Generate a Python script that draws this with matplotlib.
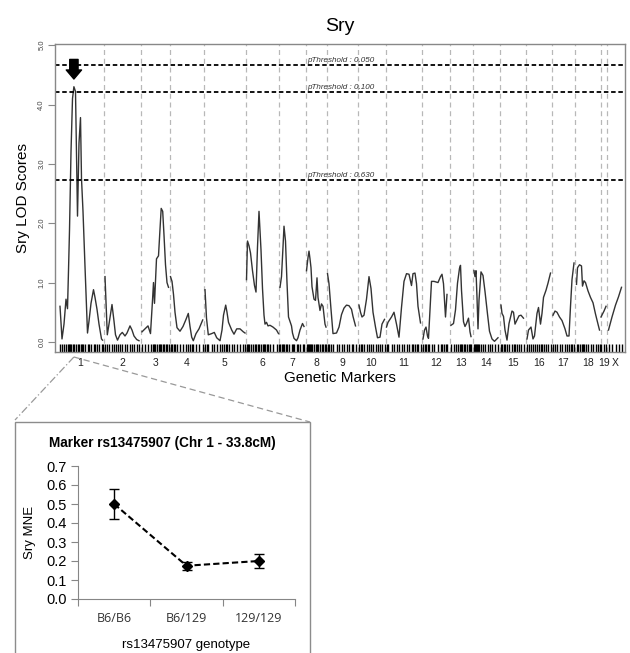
import numpy as np
import matplotlib
matplotlib.use('Agg')
import matplotlib.pyplot as plt
from matplotlib.lines import Line2D
from matplotlib.patches import Rectangle

plt.rcParams['font.family'] = ['Liberation Sans', 'DejaVu Sans']

# ---- genome scan data (positions in cM within each chromosome) ----
chromosomes = ['1', '2', '3', '4', '5', '6', '7', '8', '9', '10',
               '11', '12', '13', '14', '15', '16', '17', '18', '19', 'X']
chrom_len = [94, 74, 58, 68, 83, 67, 53, 42, 62, 56,
             73, 56, 45, 54, 53, 51, 47, 51, 13, 33]

marker_pos = [
    [6, 10, 14, 18, 21, 23, 25, 28, 31, 33.8, 37, 41, 44, 47, 49, 52, 56, 61, 64, 68, 73, 76, 80, 84, 89, 91],
    [2, 6.6, 10, 16, 20, 23, 27, 32, 36.6, 42, 46, 52, 56, 60, 65.4, 70],
    [2, 8, 14, 19, 23, 25, 27, 31, 35, 38, 40.4, 43.4, 46, 49, 52, 55],
    [1, 4, 7, 10, 14, 20, 26, 32, 36.6, 40, 43.4, 46.6, 52, 58, 65.4],
    [2, 5, 8.6, 15.4, 20.6, 25.4, 32, 36, 39, 43.4, 46, 49, 55.4, 60, 65.4, 72, 78.6, 82],
    [2, 4, 7, 10, 14, 18, 21, 24, 27, 31, 34, 37, 39, 42, 45, 49, 55, 62, 66],
    [2, 5, 8, 10, 13, 16, 19, 25, 27, 30, 35, 38, 42, 47, 50],
    [2, 5, 7, 9, 11, 13, 17, 20, 23, 25, 29, 32, 35, 39, 41],
    [2, 5, 9, 13, 20, 25, 30, 35, 40, 45, 50, 53, 58],
    [3, 6, 9, 13, 18, 23, 27, 31, 36, 40, 45, 49, 54],
    [2, 5, 12, 17, 22, 27, 32, 37, 42, 47, 52, 55, 59, 62, 65, 70],
    [2, 5, 8, 11, 13, 19, 24, 32, 37, 40, 43, 47, 50],
    [2, 7, 11, 15, 19, 21, 23, 27, 30, 33, 37, 40, 42],
    [3, 5, 7, 9, 11, 13, 17, 21, 25, 30, 34, 39, 44, 51],
    [3, 5, 8, 11, 15, 19, 25, 28, 31, 35, 39, 43, 48],
    [2, 5, 10, 14, 17, 22, 25, 29, 32, 35, 40, 44, 49],
    [3, 7, 11, 16, 21, 27, 31, 35, 38, 41, 45],
    [3, 5, 9, 13, 15, 18, 21, 26, 31, 36, 41, 46, 49],
    [1, 7, 11],
    [3, 10, 17, 23, 29],
]
lod_scores = [
    [0.6, 0.05, 0.3, 0.72, 0.56, 1.2, 1.88, 3.2, 4.1, 4.3, 4.22, 2.12, 3.35, 3.78, 2.75, 2.2, 1.27, 0.15, 0.35, 0.65, 0.88, 0.75, 0.55, 0.3, 0.05, 0.03],
    [1.1, 0.12, 0.3, 0.63, 0.35, 0.12, 0.03, 0.12, 0.16, 0.1, 0.15, 0.27, 0.2, 0.1, 0.04, 0.02],
    [0.17, 0.22, 0.27, 0.14, 0.7, 1.0, 0.65, 1.4, 1.45, 1.9, 2.25, 2.2, 1.8, 1.3, 1.0, 0.92],
    [1.1, 1.02, 0.8, 0.5, 0.24, 0.18, 0.26, 0.38, 0.48, 0.26, 0.08, 0.02, 0.14, 0.22, 0.37],
    [0.88, 0.4, 0.12, 0.14, 0.16, 0.07, 0.02, 0.2, 0.45, 0.62, 0.5, 0.33, 0.2, 0.13, 0.22, 0.22, 0.17, 0.15],
    [1.05, 1.7, 1.62, 1.5, 1.2, 0.95, 0.84, 1.6, 2.2, 1.55, 0.9, 0.45, 0.3, 0.33, 0.27, 0.28, 0.25, 0.2, 0.14],
    [0.92, 1.1, 1.6, 1.95, 1.7, 1.0, 0.42, 0.27, 0.15, 0.06, 0.02, 0.07, 0.2, 0.31, 0.26],
    [1.2, 1.42, 1.53, 1.4, 1.25, 0.93, 0.72, 0.7, 1.08, 0.75, 0.53, 0.64, 0.6, 0.3, 0.25],
    [1.15, 0.98, 0.55, 0.14, 0.15, 0.25, 0.46, 0.57, 0.62, 0.61, 0.55, 0.43, 0.27],
    [0.62, 0.5, 0.42, 0.45, 0.72, 1.1, 0.9, 0.5, 0.25, 0.07, 0.08, 0.3, 0.38],
    [0.25, 0.33, 0.42, 0.5, 0.3, 0.08, 0.58, 1.02, 1.15, 1.14, 0.95, 1.15, 1.16, 0.98, 0.6, 0.32],
    [0.05, 0.2, 0.25, 0.1, 0.06, 1.02, 1.02, 1.0, 1.1, 1.14, 0.98, 0.42, 0.8],
    [0.28, 0.31, 0.54, 0.99, 1.24, 1.29, 0.87, 0.34, 0.26, 0.31, 0.4, 0.17, 0.09],
    [1.2, 1.1, 1.2, 0.75, 0.22, 0.7, 1.18, 1.12, 0.85, 0.47, 0.18, 0.05, 0.01, 0.07],
    [0.62, 0.48, 0.43, 0.2, 0.03, 0.31, 0.52, 0.5, 0.3, 0.37, 0.44, 0.45, 0.4],
    [0.05, 0.2, 0.25, 0.05, 0.1, 0.48, 0.58, 0.3, 0.48, 0.75, 0.87, 0.99, 1.16],
    [0.45, 0.52, 0.5, 0.42, 0.36, 0.22, 0.1, 0.1, 0.6, 1.05, 1.33],
    [0.97, 1.25, 1.3, 1.28, 0.94, 1.03, 1.0, 0.86, 0.75, 0.66, 0.47, 0.3, 0.2],
    [0.42, 0.52, 0.6],
    [0.2, 0.42, 0.62, 0.76, 0.92],
]

thresholds = [4.67, 4.21, 2.72]
threshold_labels = ['pThreshold : 0.050', 'pThreshold : 0.100', 'pThreshold : 0.630']

# ---- marker effect data ----
genotypes = ['B6/B6', 'B6/129', '129/129']
mne = [0.50, 0.175, 0.20]
mne_err = [0.08, 0.02, 0.037]

fig = plt.figure(figsize=(6.3, 6.53), dpi=100)
W, H = 630, 653

# ================= top: LOD scan =================
ax = fig.add_axes([55 / W, 1 - 352 / H, 570 / W, 308 / H])
offsets = np.concatenate([[0], np.cumsum(chrom_len)[:-1]])

all_x = []
for off, pos, lod in zip(offsets, marker_pos, lod_scores):
    x = off + np.array(pos)
    ax.plot(x, lod, color='#333333', lw=1.0)
    all_x.extend(x)

for b in offsets[1:]:
    ax.axvline(b, color='#b8b8b8', ls=(0, (4, 3)), lw=0.9, zorder=0)

for t, lab in zip(thresholds, threshold_labels):
    ax.axhline(t, color='black', ls=(0, (2.5, 1.5)), lw=1.3)
    ax.text(0.442, t + 0.02, lab, transform=ax.get_yaxis_transform(), fontsize=5.8,
            style='italic', color='#333', ha='left', va='bottom')

ax.vlines(all_x, -0.17, -0.04, color='black', lw=1.0)

ax.set_xlim(-4, 1136)
ax.set_ylim(-0.17, 5.02)

# arrow pointing to the peak
flat_lod = np.concatenate(lod_scores)
peak_x = all_x[int(np.argmax(flat_lod))]
ax.annotate('', xy=(peak_x, 4.43), xytext=(peak_x, 4.76),
            arrowprops=dict(arrowstyle='simple,head_length=0.65,head_width=1.1,tail_width=0.6',
                            color='black', mutation_scale=10, shrinkA=0, shrinkB=0))

ax.set_yticks(np.arange(0, 5.1, 1))
ax.set_yticklabels([f'{v:.1f}' for v in np.arange(0, 5.1, 1)], rotation=90, va='center')
ax.tick_params(axis='y', length=5, color='#888', labelsize=5.5, pad=2, labelcolor='#444')
ax.set_xticks(offsets + np.array(chrom_len) / 2)
ax.set_xticklabels(chromosomes)
ax.tick_params(axis='x', length=0, labelsize=7.5, pad=4, labelcolor='#222')
for s in ax.spines.values():
    s.set_color('#888')
    s.set_linewidth(1)

fig.text(340 / W, 1 - 31 / H, 'Sry', fontsize=14, ha='center', va='baseline')
fig.text(340 / W, 1 - 378 / H, 'Genetic Markers', fontsize=11, ha='center', va='center')
fig.text(23 / W, 1 - 198 / H, 'Sry LOD Scores', fontsize=11, ha='center', va='center', rotation=90)

# ================= bottom: marker effect =================
box = Rectangle((15 / W, -0.05), 295 / W, (1 - 422 / H) + 0.05, transform=fig.transFigure,
                fill=False, ec='#8c8c8c', lw=1)
fig.add_artist(box)

px, py = ax.transData.transform((peak_x, -0.17))
fx, fy = fig.transFigure.inverted().transform((px, py))
fy -= 5 / H
fig.add_artist(Line2D([fx, 15 / W], [fy, 1 - 420 / H], transform=fig.transFigure,
                      color='#999', lw=0.9, ls=(0, (6, 2, 1, 2))))
fig.add_artist(Line2D([fx, 310 / W], [fy, 1 - 422 / H], transform=fig.transFigure,
                      color='#999', lw=0.9, ls=(0, (5, 3))))

ax2 = fig.add_axes([78 / W, 1 - 599 / H, 217 / W, 133 / H])
xs = np.arange(len(genotypes))
ax2.plot(xs, mne, color='black', ls=(0, (3, 1.5)), lw=1.5)
ax2.errorbar(xs, mne, yerr=mne_err, fmt='D', color='black', ms=5,
             capsize=3.5, elinewidth=1, capthick=1)
ax2.set_xlim(-0.5, 2.5)
ax2.set_ylim(0, 0.7)
ax2.set_yticks(np.arange(0, 0.71, 0.1))
ax2.set_yticklabels([f'{v:.1f}' for v in np.arange(0, 0.71, 0.1)])
ax2.set_xticks([-0.5, 0.5, 1.5, 2.5])
ax2.set_xticklabels([])
ax2.set_xticks(xs, minor=True)
ax2.set_xticklabels(genotypes, minor=True, fontfamily='Open Sans', fontsize=9)
ax2.tick_params(axis='x', which='major', length=5, color='#868686')
ax2.tick_params(axis='x', which='minor', length=0, pad=9, labelcolor='#333')
ax2.tick_params(axis='y', length=5, color='#868686', labelsize=10.5, pad=3)
for s in ['top', 'right']:
    ax2.spines[s].set_visible(False)
for s in ['left', 'bottom']:
    ax2.spines[s].set_color('#868686')

fig.text(162 / W, 1 - 443 / H, 'Marker rs13475907 (Chr 1 - 33.8cM)', fontsize=9.8,
         fontweight='bold', ha='center', va='center')
fig.text(30 / W, 1 - 532 / H, 'Sry MNE', fontsize=9.5, rotation=90, ha='center', va='center')
fig.text(186 / W, 1 - 645 / H, 'rs13475907 genotype', fontsize=9.5, ha='center', va='center')

fig.savefig('out.png', dpi=100)
